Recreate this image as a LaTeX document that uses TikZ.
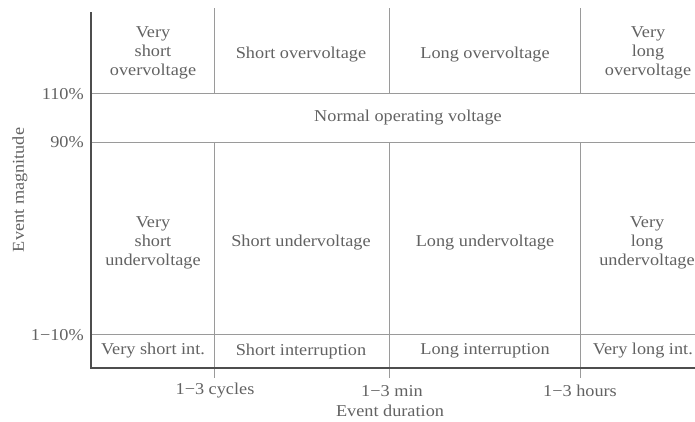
\documentclass[tikz,border=0pt]{standalone}
\usepackage{fontspec}
\setmainfont{Liberation Serif}[FakeStretch=1.1]
\usepackage{xcolor}
\usetikzlibrary{positioning}

\definecolor{txtgray}{HTML}{626262}
\definecolor{linegray}{HTML}{9A9A9A}
\definecolor{axisgray}{HTML}{4E4E4E}

\begin{document}
\begin{tikzpicture}[x=1pt,y=-1pt,
    cell/.style={align=center, text=txtgray, inner sep=0pt,
        font=\fontsize{16.6}{19}\selectfont},
    gridline/.style={draw=linegray, line width=0.8pt},
    axisline/.style={draw=axisgray, line width=2.6pt}]
    \useasboundingbox (0,0) rectangle (695,421);

    % Grid of event classes
    \draw[gridline] (92,93) -- (695,93);
    \draw[gridline] (92,142) -- (695,142);
    \draw[gridline] (92,334) -- (695,334);
    \foreach \x in {214,389,580} {
        \draw[gridline] (\x,8) -- (\x,93);
        \draw[gridline] (\x,142) -- (\x,378);
    }

    % Axes
    \draw[axisline] (91,12) -- (91,368) -- (695,368);

    % Overvoltage row
    \node[cell] (vsover) at (153,53) {Very\\short\\overvoltage};
    \node[cell] (sover) at (301,55) {Short overvoltage};
    \node[cell] (lover) at (485,55) {Long overvoltage};
    \node[cell] (vlover) at (648,53) {Very\\long\\overvoltage};

    % Normal band
    \node[cell] (normal) at (408,118) {Normal operating voltage};

    % Undervoltage row
    \node[cell] (vsunder) at (153,243) {Very\\short\\undervoltage};
    \node[cell] (sunder) at (301,243) {Short undervoltage};
    \node[cell] (lunder) at (485,243) {Long undervoltage};
    \node[cell] (vlunder) at (647,243) {Very\\long\\undervoltage};

    % Interruption row
    \node[cell] (vsint) at (153,351) {Very short int.};
    \node[cell] (sint) at (301,351) {Short interruption};
    \node[cell] (lint) at (485,351) {Long interruption};
    \node[cell, anchor=east] (vlint) at (693,351) {Very long int.};

    % Magnitude ticks
    \node[cell, anchor=east] (up) at (84,94) {110\%};
    \node[cell, anchor=east] (low) at (84,142) {90\%};
    \node[cell, anchor=east] (intr) at (84,335) {1−10\%};
    \node[cell, rotate=90] (ylab) at (20,190) {Event magnitude};

    % Duration ticks
    \node[cell] (cycles) at (215,391) {1−3 cycles};
    \node[cell] (mins) at (392,391) {1−3 min};
    \node[cell] (hours) at (580,391) {1−3 hours};
    \node[cell] (xlab) at (390,411) {Event duration};
\end{tikzpicture}
\end{document}
